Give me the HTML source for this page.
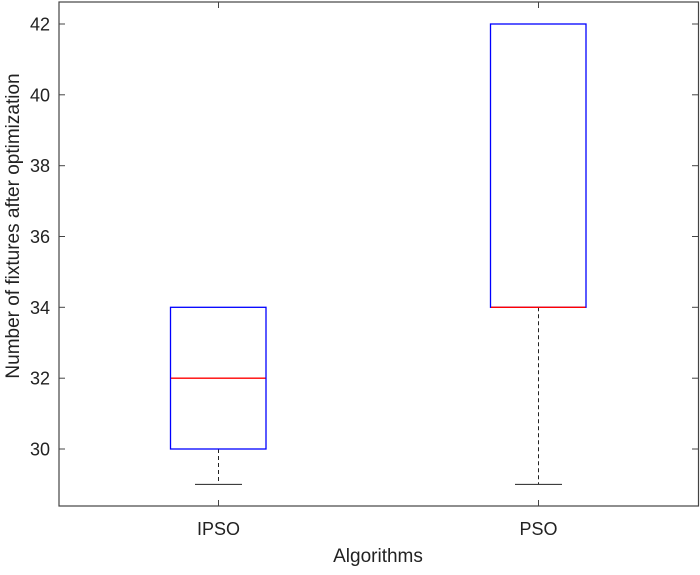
<!DOCTYPE html>
<html><head><style>body{margin:0;background:#fff}</style></head><body>
<svg width="700" height="570" xmlns="http://www.w3.org/2000/svg" font-family="Liberation Sans, Arial, sans-serif">
<rect x="0" y="0" width="700" height="570" fill="#fff"/>
<g stroke="#444" stroke-width="1.2" fill="none">
<rect x="59" y="2" width="639.5" height="504"/>
</g>
<g stroke="#444" stroke-width="1">
<line x1="59" y1="24" x2="65" y2="24"/><line x1="698" y1="24" x2="692" y2="24"/>
<line x1="59" y1="94.8" x2="65" y2="94.8"/><line x1="698" y1="94.8" x2="692" y2="94.8"/>
<line x1="59" y1="165.7" x2="65" y2="165.7"/><line x1="698" y1="165.7" x2="692" y2="165.7"/>
<line x1="59" y1="236.5" x2="65" y2="236.5"/><line x1="698" y1="236.5" x2="692" y2="236.5"/>
<line x1="59" y1="307.3" x2="65" y2="307.3"/><line x1="698" y1="307.3" x2="692" y2="307.3"/>
<line x1="59" y1="378.2" x2="65" y2="378.2"/><line x1="698" y1="378.2" x2="692" y2="378.2"/>
<line x1="59" y1="449" x2="65" y2="449"/><line x1="698" y1="449" x2="692" y2="449"/>
<line x1="218.5" y1="506" x2="218.5" y2="500"/><line x1="218.5" y1="2" x2="218.5" y2="8"/>
<line x1="538.5" y1="506" x2="538.5" y2="500"/><line x1="538.5" y1="2" x2="538.5" y2="8"/>
</g>
<g font-size="18" fill="#222" text-anchor="end">
<text x="50" y="30.5">42</text><text x="50" y="101.3">40</text><text x="50" y="172.2">38</text>
<text x="50" y="243">36</text><text x="50" y="313.8">34</text><text x="50" y="384.7">32</text>
<text x="50" y="455.5">30</text>
</g>
<g font-size="18" fill="#222" text-anchor="middle">
<text x="218.5" y="535">IPSO</text><text x="538.5" y="535">PSO</text>
</g>
<g font-size="19" fill="#222" text-anchor="middle">
<text x="378" y="562">Algorithms</text>
<text transform="translate(19,226) rotate(-90)">Number of fixtures after optimization</text>
</g>
<g stroke="#222" stroke-width="1">
<line x1="218.5" y1="449" x2="218.5" y2="484.4" stroke-dasharray="4,3"/>
<line x1="195" y1="484.4" x2="242" y2="484.4"/>
<line x1="538.5" y1="307.3" x2="538.5" y2="484.4" stroke-dasharray="4,3"/>
<line x1="515" y1="484.4" x2="562" y2="484.4"/>
</g>
<g stroke="#0000ff" stroke-width="1.3" fill="none">
<rect x="170.5" y="307.3" width="95.5" height="141.7"/>
<rect x="490.5" y="24" width="95.5" height="283.3"/>
</g>
<g stroke="#ff0000" stroke-width="1.3">
<line x1="171" y1="378.2" x2="265.5" y2="378.2"/>
<line x1="491" y1="307.3" x2="585.5" y2="307.3"/>
</g>
</svg>
</body></html>
